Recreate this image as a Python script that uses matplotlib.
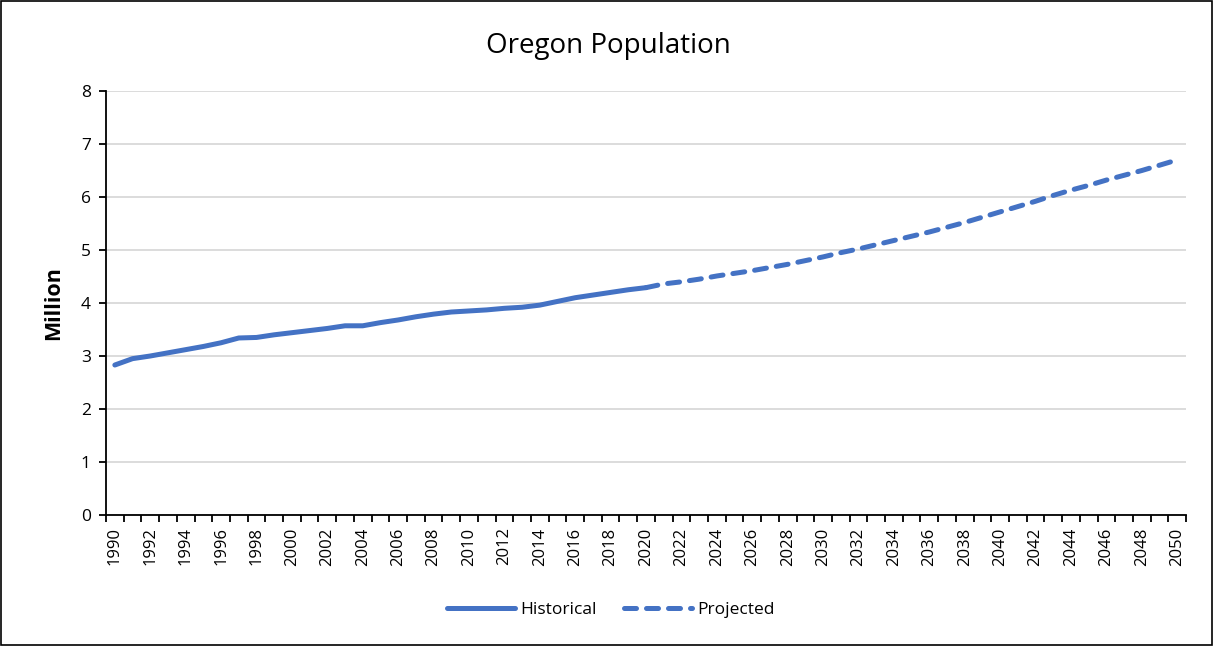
import matplotlib.pyplot as plt
from matplotlib.patches import Rectangle

# Oregon population (million)
hist_years = list(range(1990, 2021))
hist_pop = [2.83, 2.95, 3.00, 3.06, 3.12, 3.18, 3.25, 3.34, 3.35, 3.40,
            3.44, 3.48, 3.52, 3.57, 3.57, 3.63, 3.68, 3.74, 3.79, 3.83,
            3.85, 3.87, 3.90, 3.92, 3.96, 4.03, 4.10, 4.15, 4.20, 4.25,
            4.29]

proj_years = list(range(2020, 2051))
proj_pop = [4.29, 4.36, 4.40, 4.45, 4.51, 4.56, 4.61, 4.67, 4.73, 4.80,
            4.87, 4.95, 5.02, 5.10, 5.18, 5.26, 5.34, 5.43, 5.52, 5.62,
            5.72, 5.82, 5.92, 6.03, 6.13, 6.22, 6.32, 6.41, 6.50, 6.60,
            6.70]

all_years = list(range(1990, 2051))
y_ticks = [0, 1, 2, 3, 4, 5, 6, 7, 8]

BLUE = "#4472C4"
plt.rcParams["font.family"] = ["Open Sans", "DejaVu Sans"]

fig = plt.figure(figsize=(12.14, 6.46), dpi=100)
ax = fig.add_axes([0.0873, 0.2028, 0.8897, 0.6563])

# categorical x axis like Excel: positions are category indices
hx = [all_years.index(y) for y in hist_years]
px = [all_years.index(y) for y in proj_years]
ax.plot(hx, hist_pop, color=BLUE, lw=3.6, solid_capstyle="round",
        solid_joinstyle="round", label="Historical")
ax.plot(px, proj_pop, color=BLUE, lw=3.6, dashes=(2.4, 2.0),
        dash_capstyle="round", label="Projected")

ax.set_xlim(-0.5, len(all_years) - 0.5)
ax.set_ylim(0, 8)
ax.set_yticks(y_ticks)
ax.yaxis.grid(True, color="#d9d9d9", lw=1.3)
ax.set_axisbelow(True)

# labels every other year, tick marks at category boundaries
lab_pos = list(range(0, len(all_years), 2))
ax.set_xticks(lab_pos)
ax.set_xticklabels([str(all_years[i]) for i in lab_pos], rotation=90, fontsize=12)
ax.tick_params(axis="x", length=0, pad=9)
ax.set_xticks([i - 0.5 for i in range(len(all_years) + 1)], minor=True)
ax.tick_params(axis="x", which="minor", length=5, width=1.3, direction="out")
ax.tick_params(axis="y", length=5, width=1.3, labelsize=12.5, pad=6)

for s in ["top", "right"]:
    ax.spines[s].set_visible(False)
for s in ["left", "bottom"]:
    ax.spines[s].set_linewidth(1.3)
    ax.spines[s].set_color("black")

ax.set_ylabel("Million", fontsize=15.5, fontweight="bold", labelpad=12)
fig.text(0.5015, 0.929, "Oregon Population", ha="center", va="center", fontsize=20)

fig.legend(loc="center", bbox_to_anchor=(0.503, 0.056), ncol=2, frameon=False,
           fontsize=12.5, handlelength=3.9, columnspacing=1.6, handletextpad=0.3)

fig.patches.append(Rectangle((0.001, 0.002), 0.997, 0.996, transform=fig.transFigure,
                             fill=False, edgecolor="black", lw=1.2))

fig.savefig("out.png", dpi=100)
